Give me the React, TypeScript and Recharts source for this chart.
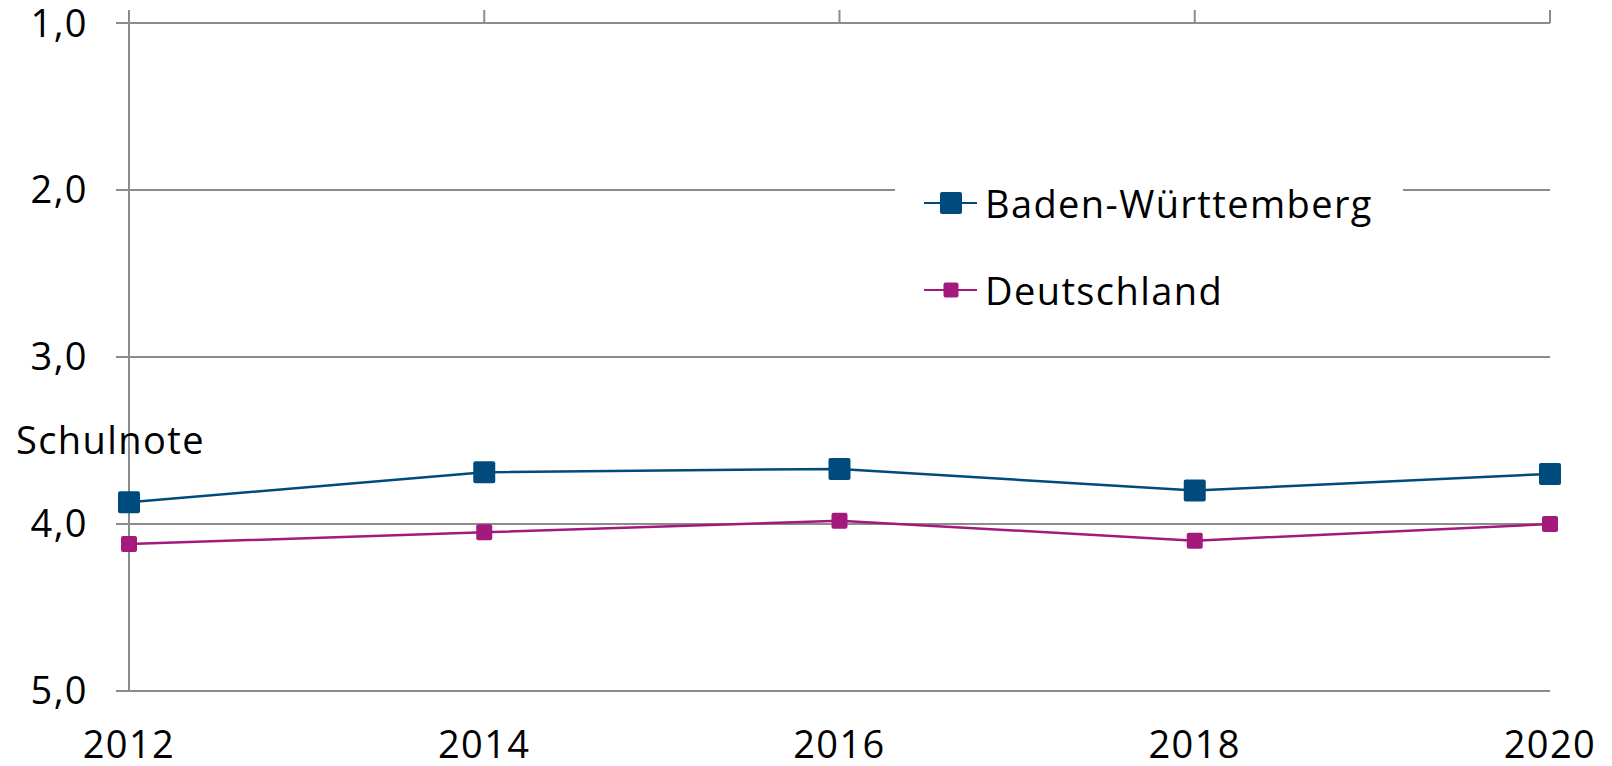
import { CartesianGrid, Legend, Line, LineChart, XAxis, YAxis } from 'recharts';

const YEARS = ['2012', '2014', '2016', '2018', '2020'];
const BADEN_WUERTTEMBERG = [3.87, 3.69, 3.67, 3.8, 3.7];
const DEUTSCHLAND = [4.12, 4.05, 3.98, 4.1, 4.0];
const Y_TICKS = [1, 2, 3, 4, 5];

const SERIES = [
  { key: 'bw', name: 'Baden-Württemberg', color: '#004b7d', marker: 22, legendMarker: 22 },
  { key: 'de', name: 'Deutschland', color: '#a4197c', marker: 16, legendMarker: 15 },
];

const data = YEARS.map((year, i) => ({
  year,
  bw: BADEN_WUERTTEMBERG[i],
  de: DEUTSCHLAND[i],
}));

const GRID = '#8c8c8c';
const FONT = '"Open Sans", "Noto Sans", sans-serif';
const SPACING = 1.4;

function squareDot(size: number, color: string) {
  return (props: any) => {
    const { cx, cy, index } = props;
    if (cx == null || cy == null) return <g key={`d-${index}`} />;
    return (
      <rect
        key={`d-${index}`}
        x={cx - size / 2}
        y={cy - size / 2}
        width={size}
        height={size}
        rx={2}
        fill={color}
      />
    );
  };
}

function renderLegend() {
  return (
    <div style={{ width: 508, height: 150, background: '#fff', position: 'relative' }}>
      {SERIES.map((s, i) => {
        const cy = i === 0 ? 38 : 125;
        return (
          <div key={s.key} style={{ position: 'absolute', left: 0, top: cy - 25, height: 50, display: 'flex', alignItems: 'center' }}>
            <svg width={90} height={50} style={{ display: 'block' }}>
              <line x1={29} x2={82} y1={25} y2={25} stroke={s.color} strokeWidth={2} />
              <rect
                x={56 - s.legendMarker / 2}
                y={25 - s.legendMarker / 2}
                width={s.legendMarker}
                height={s.legendMarker}
                rx={2}
                fill={s.color}
              />
            </svg>
            <span style={{ fontFamily: FONT, fontSize: 38, letterSpacing: SPACING, color: '#000', whiteSpace: 'nowrap' }}>
              {s.name}
            </span>
          </div>
        );
      })}
    </div>
  );
}

export default function App() {
  return (
    <div style={{ position: 'absolute', left: 0, top: 0, width: 1612, height: 766, background: '#fff' }}>
      <LineChart width={1612} height={766} data={data} margin={{ top: 10, right: 62, bottom: 0, left: 0 }}>
        <CartesianGrid vertical={false} stroke={GRID} strokeWidth={2} />
        <XAxis
          dataKey="year"
          axisLine={false}
          tickLine={false}
          tickSize={0}
          tickMargin={40}
          height={75}
          interval={0}
          tick={{ fill: '#000', fontSize: 38, fontFamily: FONT, letterSpacing: SPACING }}
        />
        <XAxis
          xAxisId="top"
          dataKey="year"
          orientation="top"
          height={13}
          tickSize={13}
          interval={0}
          tickFormatter={() => ''}
          axisLine={{ stroke: GRID, strokeWidth: 2 }}
          tickLine={{ stroke: GRID, strokeWidth: 2 }}
        />
        <YAxis
          type="number"
          domain={[1, 5]}
          ticks={Y_TICKS}
          reversed
          width={129}
          tickSize={13}
          tickMargin={28}
          tickFormatter={(v: number) => v.toFixed(1).replace('.', ',')}
          axisLine={{ stroke: GRID, strokeWidth: 2 }}
          tickLine={{ stroke: GRID, strokeWidth: 2 }}
          tick={{ fill: '#000', fontSize: 38, fontFamily: FONT, letterSpacing: SPACING }}
        />
        <Legend
          layout="vertical"
          align="center"
          verticalAlign="middle"
          content={renderLegend}
          wrapperStyle={{ left: 895, top: 165, width: 508, height: 150 }}
        />
        {SERIES.map((s) => (
          <Line
            key={s.key}
            dataKey={s.key}
            name={s.name}
            stroke={s.color}
            strokeWidth={2.5}
            dot={squareDot(s.marker, s.color)}
            activeDot={false}
            isAnimationActive={false}
          />
        ))}
      </LineChart>
      <div
        style={{
          position: 'absolute',
          left: 16,
          top: 439,
          transform: 'translateY(-50%)',
          fontFamily: FONT,
          fontSize: 38,
          letterSpacing: SPACING,
          lineHeight: 1,
          color: '#000',
          whiteSpace: 'nowrap',
        }}
      >
        Schulnote
      </div>
    </div>
  );
}
